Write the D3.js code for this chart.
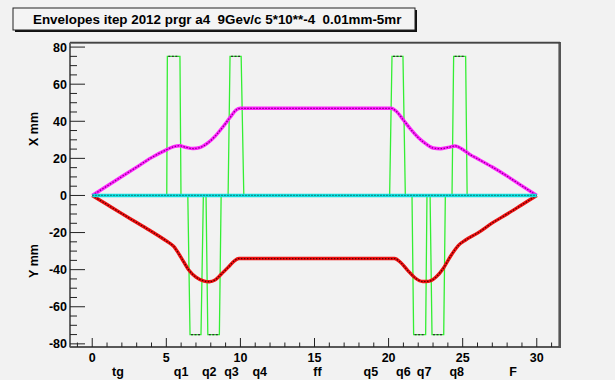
<!DOCTYPE html>
<html><head><meta charset="utf-8">
<script src="https://cdn.jsdelivr.net/npm/d3@7"></script>
<style>
html,body{margin:0;padding:0;background:#f2f2f2;}
svg{display:block;}
text{font-family:"Liberation Sans",Arial,Helvetica,sans-serif;font-weight:bold;fill:#000;}
</style></head>
<body>
<svg id="c" width="615" height="380"></svg>
<script>
// ---------- data ----------
const titleText = "Envelopes itep 2012 prgr a4  9Gev/c 5*10**-4  0.01mm-5mr";
const yAxisTitleTop = "X mm";
const yAxisTitleBottom = "Y mm";
const xMajorTicks = [0, 5, 10, 15, 20, 25, 30];
const yMajorTicks = [-80, -60, -40, -20, 0, 20, 40, 60, 80];
const elemNames = ["tg","q1","q2","q3","q4","ff","q5","q6","q7","q8","F"];
const elemPos   = [1.74, 6.0, 7.9, 9.4, 11.3, 15.2, 18.8, 21.0, 22.4, 24.6, 28.4];

// X envelope (mm) along beamline (m)
const envXs = [0,1,2,3,4,5,5.5,5.9,6.3,6.8,7.3,7.8,8.3,8.8,9.3,9.7,10.0,20.2,20.5,21.0,21.5,22.0,22.5,23.0,23.5,24.0,24.5,25.0,25.5,26,27,28,29,30];
const envX  = [0,5.1,10.2,15.3,20.4,24.6,26.3,26.8,26.0,25.3,25.9,28.3,32.0,36.8,42.0,46.0,47.0,47.0,45.5,40.7,35.6,31.2,27.9,25.6,25.2,25.9,26.7,24.8,22.0,19.8,15.3,10.4,5.2,0];
// Y envelope (mm), drawn negative
const envYs = [0,1,2,3,4,5,5.5,6,6.5,7,7.5,7.9,8.3,8.7,9.2,9.6,9.9,20.4,20.8,21.3,21.8,22.3,22.7,23.2,23.7,24.2,24.7,25.2,26,27,28,29,30];
const envY  = [0,-4.9,-9.8,-14.6,-19.4,-24.5,-27.5,-33.5,-40,-44,-46,-46.5,-45.5,-42.5,-38.5,-35.2,-34,-34,-36,-40.5,-44.5,-46.4,-46.3,-44,-39.2,-32.5,-27,-24,-20.3,-14.8,-10,-5,0];
// central orbit
const orbitS = [0, 30];
const orbitV = [0, 0];
// quadrupole apertures: edges (start, start top, end top, end) and height
const apStart    = [5.03, 6.45, 7.68, 9.17, 20.07, 21.58, 22.80, 24.28];
const apStartTop = [5.07, 6.60, 7.80, 9.30, 20.23, 21.69, 22.93, 24.39];
const apEndTop   = [5.92, 7.34, 8.58, 10.05, 20.97, 22.50, 23.72, 25.20];
const apEnd      = [5.99, 7.50, 8.70, 10.23, 21.13, 22.59, 23.83, 25.30];
const apHeight   = [75, -75, -75, 75, 75, -75, -75, 75];

// ---------- layout ----------
const svg = d3.select("#c");
const L = 70, R = 559, T = 43, B = 347;
const x = d3.scaleLinear().domain([-1.5, 31.5]).range([L, R]);
const y = d3.scaleLinear().domain([-81.7, 82.2]).range([B, T]);

// title box
svg.append("rect").attr("x", 15).attr("y", 10).attr("width", 402).attr("height", 22).attr("fill", "#111");
svg.append("rect").attr("x", 13).attr("y", 8).attr("width", 402).attr("height", 22)
  .attr("fill", "#f4f4f4").attr("stroke", "#222").attr("stroke-width", 1);
svg.append("text").attr("x", 33).attr("y", 24).attr("font-size", 13.4)
  .style("white-space", "pre").attr("xml:space", "preserve").text(titleText);

// frame
svg.append("rect").attr("x", L).attr("y", T).attr("width", R - L).attr("height", B - T)
  .attr("fill", "#f2f2f2").attr("stroke", "#333").attr("stroke-width", 1);
svg.append("line").attr("x1", R + 1).attr("x2", R + 1).attr("y1", T - 1).attr("y2", B + 1)
  .attr("stroke", "#555").attr("stroke-width", 2);
svg.append("line").attr("x1", L).attr("x2", R + 1).attr("y1", T - 0.5).attr("y2", T - 0.5)
  .attr("stroke", "#444").attr("stroke-width", 1.5);

// clip
svg.append("clipPath").attr("id", "clip").append("rect")
  .attr("x", L).attr("y", T).attr("width", R - L).attr("height", B - T);
const plot = svg.append("g").attr("clip-path", "url(#clip)");

// apertures (green)
apStart.forEach((s, i) => {
  const h = apHeight[i];
  const pts = [[apStart[i], 0], [apStartTop[i], h], [apEndTop[i], h], [apEnd[i], 0]];
  plot.append("path").attr("d", d3.line().x(d => x(d[0])).y(d => y(d[1]))(pts))
    .attr("fill", "none").attr("stroke", "#33ee33").attr("stroke-width", 1.3);
  plot.append("line").attr("x1", x(apStartTop[i]) + 1).attr("x2", x(apEndTop[i]) - 1)
    .attr("y1", y(h)).attr("y2", y(h)).attr("stroke", "#333").attr("stroke-width", 1.2)
    .attr("stroke-dasharray", "2,1.5");
});

function drawEnv(xs, vs, col, dark) {
  const pts = xs.map((s, i) => [s, vs[i]]);
  const ln = d3.line().curve(d3.curveMonotoneX).x(d => x(d[0])).y(d => y(d[1]));
  plot.append("path").attr("d", ln(pts)).attr("fill", "none").attr("stroke", col)
    .attr("stroke-width", 3.4).attr("stroke-linejoin", "round");
  plot.append("path").attr("d", ln(pts)).attr("fill", "none").attr("stroke", dark)
    .attr("stroke-width", 1.2).attr("stroke-dasharray", "1.5,1.5");
}
drawEnv(envXs, envX, "#ff22ff", "#880088");
drawEnv(envYs, envY, "#ee1111", "#550000");
// orbit
drawEnv(orbitS, orbitV, "#11e0e0", "#117777");

// axes
const axG = svg.append("g");
axG.append("line").attr("x1", L).attr("x2", L).attr("y1", T).attr("y2", B).attr("stroke", "#666").attr("stroke-width", 2);
axG.append("line").attr("x1", L).attr("x2", R).attr("y1", B).attr("y2", B).attr("stroke", "#444").attr("stroke-width", 1.5);

// y ticks
const yMinor = d3.range(-80, 81, 5).filter(v => v % 20 !== 0);
yMajorTicks.forEach(v => {
  axG.append("line").attr("x1", L).attr("x2", L + 15).attr("y1", y(v)).attr("y2", y(v)).attr("stroke", "#222").attr("stroke-width", 1);
  axG.append("text").attr("x", 67).attr("y", y(v) + 4.5).attr("text-anchor", "end").attr("font-size", 12.5).text(v);
});
yMinor.forEach(v => {
  axG.append("line").attr("x1", L).attr("x2", L + 7).attr("y1", y(v)).attr("y2", y(v)).attr("stroke", "#222").attr("stroke-width", 1);
});
// x ticks
const xMinor = d3.range(-1, 32, 1).filter(v => v % 5 !== 0);
xMajorTicks.forEach(v => {
  axG.append("line").attr("x1", x(v)).attr("x2", x(v)).attr("y1", B).attr("y2", B - 9).attr("stroke", "#222").attr("stroke-width", 1);
  axG.append("text").attr("x", x(v)).attr("y", 362).attr("text-anchor", "middle").attr("font-size", 12.5).text(v);
});
xMinor.forEach(v => {
  axG.append("line").attr("x1", x(v)).attr("x2", x(v)).attr("y1", B).attr("y2", B - 4.5).attr("stroke", "#222").attr("stroke-width", 1);
});
// element labels
elemNames.forEach((n, i) => {
  axG.append("text").attr("x", x(elemPos[i])).attr("y", 376).attr("text-anchor", "middle").attr("font-size", 12.5).text(n);
});
// axis titles
svg.append("text").attr("transform", "translate(38,129) rotate(-90)").attr("text-anchor", "middle").attr("font-size", 12.5).text(yAxisTitleTop);
svg.append("text").attr("transform", "translate(38,261) rotate(-90)").attr("text-anchor", "middle").attr("font-size", 12.5).text(yAxisTitleBottom);
</script>
</body></html>
